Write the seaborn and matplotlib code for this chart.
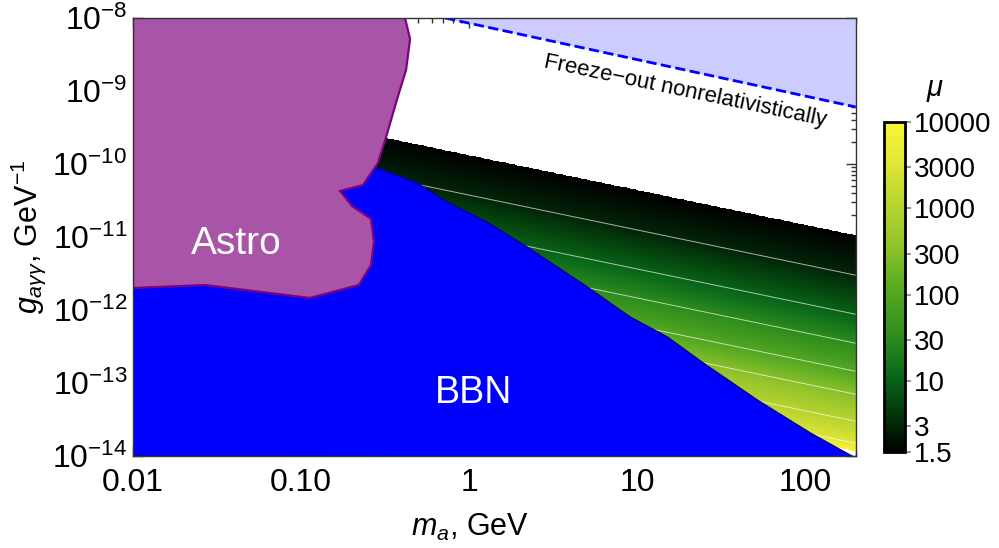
"""
Axion-like particle constraints: m_a vs g_agg with the mu region,
BBN / astrophysical bounds and the freeze-out line.
"""

import numpy as np
import matplotlib
matplotlib.use("Agg")
import matplotlib.pyplot as plt
import seaborn as sns
from matplotlib.colors import LinearSegmentedColormap, LogNorm
from matplotlib.ticker import FixedLocator, FixedFormatter, LogLocator, NullFormatter

# ----------------------------------------------------------------------
# Data
# ----------------------------------------------------------------------

# Astro excluded region (GeV, GeV^-1)
astro_m = [0.01, 0.416, 0.446, 0.422, 0.372, 0.321, 0.287, 0.234, 0.171,
           0.201, 0.261, 0.272, 0.261, 0.221, 0.113, 0.0268, 0.01]
astro_g = [1e-8, 1e-8, 5.15e-9, 1.94e-9, 7.53e-10, 2.34e-10, 1.03e-10,
           5.15e-11, 4.27e-11, 2.66e-11, 1.77e-11, 8.55e-12, 4.13e-12,
           2.2e-12, 1.46e-12, 2.2e-12, 2.0e-12]

# BBN excluded region, upper boundary
bbn_m = [0.01, 0.01, 0.22, 0.287, 0.49, 0.739, 1.28, 2.21, 5.04, 9.08,
         15.1, 24.7, 51.8, 107, 200]
bbn_g = [1e-14, 1e-11, 6.3e-11, 8.8e-11, 5.5e-11, 3.01e-11, 1.6e-11,
         7.3e-12, 2.07e-12, 8.0e-13, 4.27e-13, 1.88e-13, 5.85e-14,
         2.07e-14, 9.3e-15]

# freeze-out nonrelativistically line
freeze_m = [0.72, 200]
freeze_g = [1e-8, 6.04e-10]

# upper edge of the mu region (mu = 1.5)
mu_edge_m = [0.321, 200]
mu_edge_g = [2.27e-10, 1.054e-11]

# mu contour levels and where they cross m = 200 GeV
mu_levels = [1.5, 3, 10, 30, 100, 300, 1000, 3000, 10000]
mu_g_at_200 = [1.054e-11, 2.99e-12, 8.73e-13, 3.50e-13, 1.445e-13,
               7.0e-14, 2.99e-14, 1.49e-14, 1.16e-14]

cbar_ticks = [1.5, 3, 10, 30, 100, 300, 1000, 3000, 10000]
cbar_labels = ["1.5", "3", "10", "30", "100", "300", "1000", "3000", "10000"]
x_ticks = [0.01, 0.1, 1, 10, 100]
x_labels = ["0.01", "0.10", "1", "10", "100"]

# ----------------------------------------------------------------------
# Style
# ----------------------------------------------------------------------

sns.set_theme(style="ticks")
plt.rcParams["font.family"] = ["Liberation Sans", "DejaVu Sans"]
plt.rcParams["mathtext.fontset"] = "custom"
plt.rcParams["mathtext.rm"] = "Liberation Sans"
plt.rcParams["mathtext.it"] = "Liberation Sans:italic"
plt.rcParams["text.color"] = "black"
plt.rcParams["axes.labelcolor"] = "black"
plt.rcParams["xtick.labelcolor"] = "black"
plt.rcParams["ytick.labelcolor"] = "black"

FRAME = "#333333"
avocado = LinearSegmentedColormap.from_list(
    "avocado",
    [(0.0, "#000000"), (0.13, "#033d0c"), (0.24, "#0b6b1a"),
     (0.35, "#2f8d1c"), (0.5, "#58aa22"), (0.62, "#8fc22a"),
     (0.74, "#b6d22e"), (0.9, "#e6ea38"), (1.0, "#f8f535")],
)
norm = LogNorm(vmin=mu_levels[0], vmax=mu_levels[-1])

fig = plt.figure(figsize=(9.99, 5.48), dpi=100)
ax = fig.add_axes([0.1331, 0.1679, 0.7234, 0.7993])
cax = fig.add_axes([0.885, 0.175, 0.021, 0.602])

ax.set_xscale("log")
ax.set_yscale("log")
ax.set_xlim(0.01, 200)
ax.set_ylim(1e-14, 1e-8)

# ----------------------------------------------------------------------
# mu field: iso-lines parallel to the upper edge
# ----------------------------------------------------------------------

slope = np.diff(np.log10(mu_edge_g))[0] / np.diff(np.log10(mu_edge_m))[0]
mm = np.logspace(-2, np.log10(200), 700)
gg = np.logspace(-14, -8, 700)
M, G = np.meshgrid(mm, gg)
log_g200 = np.log10(G) - slope * (np.log10(M) - np.log10(200))
xp = np.log10(mu_g_at_200)[::-1]
fp = np.log10(mu_levels)[::-1]
log_mu = np.interp(log_g200, xp, fp, left=np.nan, right=np.nan)
mu_field = np.ma.masked_invalid(10 ** log_mu)

ax.pcolormesh(M, G, mu_field, cmap=avocado, norm=norm, shading="auto",
              rasterized=True, zorder=1)
ax.contour(M, G, mu_field, levels=mu_levels[1:-1], colors="white",
           linewidths=0.7, alpha=0.65, zorder=2)

# ----------------------------------------------------------------------
# Excluded regions
# ----------------------------------------------------------------------

ax.fill_between(freeze_m, freeze_g, 1e-8, color="#ccccff", lw=0, zorder=1)
sns.lineplot(x=freeze_m, y=freeze_g, ax=ax, color="#0000ff", lw=2,
             linestyle="--", dashes=(2.5, 1.8), zorder=5)

ax.fill(bbn_m, bbn_g, facecolor="#0000ff", edgecolor="#0000a0", lw=1.2,
        zorder=3)
ax.fill(astro_m, astro_g, facecolor="#a855a8", edgecolor="#800080", lw=1.6,
        zorder=4)

ax.text(0.041, 8.1e-12, "Astro", color="white", fontsize=28, ha="center",
        va="center", zorder=6)
ax.text(1.06, 7.4e-14, "BBN", color="white", fontsize=27, ha="center",
        va="center", zorder=6)
ax.text(19.3, 1.0e-9, "Freeze\u2212out nonrelativistically", fontsize=16,
        rotation=-11.8, rotation_mode="anchor", ha="center", va="center",
        zorder=6)

# ----------------------------------------------------------------------
# Axes
# ----------------------------------------------------------------------

ax.xaxis.set_major_locator(FixedLocator(x_ticks))
ax.xaxis.set_major_formatter(FixedFormatter(x_labels))
ax.xaxis.set_minor_locator(LogLocator(base=10, subs=np.arange(2, 10)))
ax.xaxis.set_minor_formatter(NullFormatter())
ax.yaxis.set_major_locator(LogLocator(base=10, numticks=20))
ax.yaxis.set_minor_locator(LogLocator(base=10, subs=np.arange(2, 10), numticks=20))
ax.yaxis.set_minor_formatter(NullFormatter())

ax.tick_params(which="both", direction="in", top=True, right=True,
               color=FRAME, width=1)
ax.tick_params(which="major", length=7)
ax.tick_params(which="minor", length=3.5)
ax.tick_params(axis="x", which="major", labelsize=23, pad=9)
ax.tick_params(axis="y", which="major", labelsize=23, pad=4)
for sp in ax.spines.values():
    sp.set_color(FRAME)
    sp.set_linewidth(1)
    sp.set_zorder(7)

ax.set_xlabel("$m_a$, GeV", fontsize=22)
ax.set_ylabel("$g_{a\\gamma\\gamma}$, GeV$^{-1}$", fontsize=22)
ax.xaxis.set_label_coords(0.467, -0.127)
ax.yaxis.set_label_coords(-0.117, 0.5)

# ----------------------------------------------------------------------
# Colorbar
# ----------------------------------------------------------------------

sm = plt.cm.ScalarMappable(cmap=avocado, norm=norm)
cbar = fig.colorbar(sm, cax=cax)
cbar.set_ticks(cbar_ticks)
cbar.set_ticklabels(cbar_labels)
cbar.ax.yaxis.set_minor_locator(FixedLocator([]))
cbar.ax.tick_params(labelsize=20, length=4, color="#888888", pad=2)
cbar.outline.set_linewidth(2)
cbar.outline.set_edgecolor("black")
fig.text(0.936, 0.84, "\u03bc", fontsize=21, style="italic", ha="center",
         va="center")

fig.savefig("out.png", dpi=100)
